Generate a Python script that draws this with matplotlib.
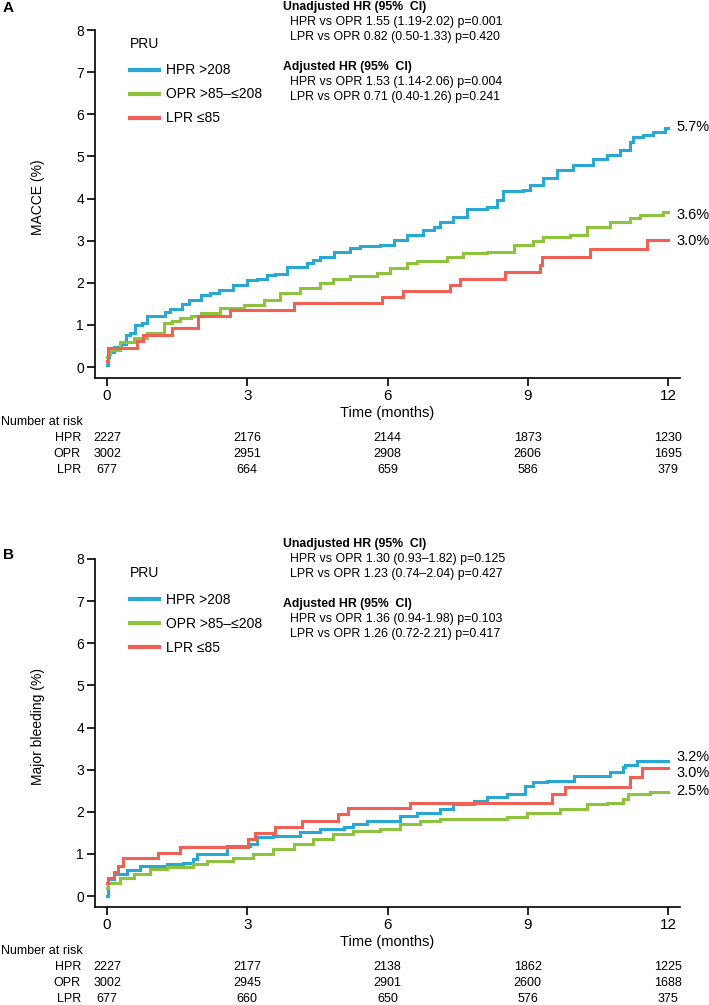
import matplotlib
matplotlib.use("Agg")
import matplotlib.pyplot as plt
from matplotlib.lines import Line2D
from matplotlib.transforms import blended_transform_factory

plt.rcParams['font.family'] = ['Liberation Sans', 'DejaVu Sans']
NARROW = ['Liberation Sans Narrow', 'Liberation Sans', 'DejaVu Sans']

# ---- data ----
groups = ['HPR', 'OPR', 'LPR']
legend_labels = ['HPR >208', 'OPR >85\u2013\u2264208', 'LPR \u226485']
colors = ['#29a8d4', '#8dc33f', '#ef6056']
time_ticks = [0, 3, 6, 9, 12]

# Panel A: MACCE
a_hpr_t = [0, 0.02, 0.05, 0.14, 0.3, 0.41, 0.5, 0.6, 0.75, 0.85, 1.25, 1.35, 1.6, 1.75,
           2.0, 2.2, 2.4, 2.7, 3.0, 3.2, 3.43, 3.6, 3.85, 4.28, 4.4, 4.56, 4.85, 5.2,
           5.42, 5.84, 6.13, 6.41, 6.77, 7.0, 7.12, 7.4, 7.7, 8.13, 8.34, 8.48, 8.9,
           9.05, 9.33, 9.62, 9.97, 10.4, 10.7, 10.98, 11.19, 11.26, 11.47, 11.69, 11.94, 12.0]
a_hpr_v = [0.05, 0.25, 0.35, 0.47, 0.55, 0.75, 0.8, 1.0, 1.05, 1.2, 1.3, 1.38, 1.5, 1.6,
           1.7, 1.75, 1.82, 1.95, 2.06, 2.08, 2.18, 2.2, 2.37, 2.46, 2.55, 2.62, 2.73, 2.83,
           2.87, 2.9, 3.02, 3.13, 3.25, 3.33, 3.45, 3.57, 3.75, 3.81, 3.97, 4.19, 4.2,
           4.32, 4.48, 4.68, 4.8, 4.94, 5.04, 5.15, 5.35, 5.47, 5.51, 5.57, 5.67, 5.67]
a_opr_t = [0, 0.03, 0.07, 0.28, 0.57, 0.85, 1.21, 1.4, 1.57, 1.8, 2.0, 2.42, 2.92, 3.35,
           3.7, 4.13, 4.56, 4.84, 5.2, 5.77, 6.05, 6.41, 6.63, 7.27, 7.62, 8.13, 8.7,
           9.12, 9.33, 9.9, 10.27, 10.76, 11.19, 11.4, 11.9, 12.0]
a_opr_v = [0.25, 0.32, 0.4, 0.6, 0.68, 0.8, 1.04, 1.1, 1.16, 1.22, 1.28, 1.4, 1.48, 1.6,
           1.75, 1.87, 2.0, 2.1, 2.15, 2.23, 2.35, 2.46, 2.52, 2.62, 2.7, 2.74, 2.9,
           2.98, 3.08, 3.13, 3.32, 3.45, 3.53, 3.61, 3.67, 3.67]
a_lpr_t = [0, 0.03, 0.64, 0.77, 1.39, 1.95, 2.63, 3.99, 5.88, 6.33, 7.34, 7.55, 8.51,
           9.26, 9.3, 10.33, 11.55, 12.0]
a_lpr_v = [0.15, 0.45, 0.62, 0.76, 0.92, 1.2, 1.35, 1.53, 1.67, 1.81, 1.95, 2.1, 2.26,
           2.42, 2.62, 2.8, 3.02, 3.02]
a_final = ['5.7%', '3.6%', '3.0%']
a_final_y = [5.7, 3.6, 3.0]
a_risk = {'HPR': [2227, 2176, 2144, 1873, 1230],
          'OPR': [3002, 2951, 2908, 2606, 1695],
          'LPR': [677, 664, 659, 586, 379]}
a_hr = ['HPR vs OPR 1.55 (1.19-2.02) p=0.001', 'LPR vs OPR 0.82 (0.50-1.33) p=0.420',
        'HPR vs OPR 1.53 (1.14-2.06) p=0.004', 'LPR vs OPR 0.71 (0.40-1.26) p=0.241']

# Panel B: major bleeding
b_hpr_t = [0, 0.02, 0.14, 0.42, 0.7, 1.28, 1.63, 1.85, 1.92, 2.56, 3.06, 3.2, 3.56, 4.13,
           4.56, 5.06, 5.27, 5.56, 6.27, 6.63, 7.12, 7.41, 7.84, 8.12, 8.55, 8.94, 9.12,
           9.41, 9.99, 10.76, 11.04, 11.08, 11.34, 12.0]
b_hpr_v = [0.0, 0.4, 0.52, 0.62, 0.71, 0.76, 0.79, 0.88, 1.0, 1.19, 1.24, 1.39, 1.43, 1.51,
           1.6, 1.64, 1.71, 1.79, 1.9, 1.98, 2.07, 2.19, 2.26, 2.34, 2.43, 2.62, 2.7,
           2.74, 2.86, 2.94, 3.06, 3.12, 3.2, 3.2]
b_opr_t = [0, 0.03, 0.28, 0.57, 0.92, 1.28, 1.85, 2.14, 2.7, 3.13, 3.56, 3.99, 4.41, 4.84,
           5.27, 5.84, 6.27, 6.7, 7.12, 8.55, 8.98, 9.69, 10.27, 10.7, 11.04, 11.15,
           11.62, 12.0]
b_opr_v = [0.2, 0.32, 0.44, 0.53, 0.64, 0.69, 0.76, 0.83, 0.91, 1.0, 1.12, 1.24, 1.36, 1.47,
           1.55, 1.6, 1.71, 1.79, 1.83, 1.87, 1.96, 2.07, 2.19, 2.22, 2.31, 2.43,
           2.48, 2.48]
b_lpr_t = [0, 0.02, 0.14, 0.24, 0.35, 1.1, 1.56, 3.02, 3.17, 3.6, 4.17, 4.95, 5.16, 6.48,
           9.52, 9.8, 11.19, 11.44, 12.0]
b_lpr_v = [0.3, 0.44, 0.58, 0.71, 0.9, 1.03, 1.17, 1.35, 1.5, 1.64, 1.79, 1.95, 2.1, 2.22,
           2.43, 2.6, 2.82, 3.05, 3.05]
b_final = ['3.2%', '3.0%', '2.5%']
b_final_y = [3.2, 3.0, 2.5]
b_risk = {'HPR': [2227, 2177, 2138, 1862, 1225],
          'OPR': [3002, 2945, 2901, 2600, 1688],
          'LPR': [677, 660, 650, 576, 375]}
b_hr = ['HPR vs OPR 1.30 (0.93\u20131.82) p=0.125', 'LPR vs OPR 1.23 (0.74\u20132.04) p=0.427',
        'HPR vs OPR 1.36 (0.94-1.98) p=0.103', 'LPR vs OPR 1.26 (0.72-2.21) p=0.417']

W, H = 709, 1005
fig = plt.figure(figsize=(W / 100, H / 100), dpi=100)


def fy(py):
    return 1 - py / H


def panel(top_px, letter, letter_px, ylabel, curves, finals, finals_y, nudge,
          risk, hr, hr_top):
    ax = fig.add_axes([95 / W, fy(top_px + 348), 585 / W, 348 / H])
    for (t, v), c in zip(curves, colors):
        ax.step(t, v, where='post', color=c, lw=2.2, solid_joinstyle='miter')
    ax.set_xlim(-0.257, 12.257)
    ax.set_ylim(-0.26, 8)
    ax.set_xticks(time_ticks)
    ax.set_yticks(range(0, 9))
    for s in ['top', 'right']:
        ax.spines[s].set_visible(False)
    for s in ['left', 'bottom']:
        ax.spines[s].set_linewidth(1.2)
    ax.tick_params(axis='both', length=6, width=1.2, direction='out', labelsize=10, pad=2)
    for lab in ax.get_xticklabels():
        lab.set_family(NARROW)
        lab.set_fontsize(11)
    ax.set_ylabel(ylabel, fontsize=10)
    ax.yaxis.set_label_coords(-0.0855, 0.52)

    # end-of-curve percentages
    for lab, y, dy in zip(finals, finals_y, nudge):
        ax.annotate(lab, (12, y), xytext=(8, dy), textcoords='offset pixels',
                    fontsize=10.5, va='center', ha='left', annotation_clip=False)

    handles = [Line2D([], [], color=c, lw=3) for c in colors]
    leg = ax.legend(handles, legend_labels, title='PRU', loc='upper left',
                    bbox_to_anchor=(130 / W, fy(top_px + 7)),
                    bbox_transform=fig.transFigure, frameon=False, fontsize=10,
                    title_fontsize=10, borderpad=0, borderaxespad=0,
                    handlelength=2.1, handletextpad=0.5, labelspacing=0.72,
                    alignment='left')
    leg._legend_box.sep = 9

    fig.text(3 / W, fy(letter_px), letter, fontsize=11, fontweight='bold',
             va='center', ha='left')

    # hazard ratio block
    fig.text(283 / W, fy(hr_top), 'Unadjusted HR (95%  CI)', fontsize=8.8,
             fontweight='bold', va='center')
    fig.text(290 / W, fy(hr_top + 15), hr[0], fontsize=8.9, va='center')
    fig.text(290 / W, fy(hr_top + 30), hr[1], fontsize=8.9, va='center')
    fig.text(283 / W, fy(hr_top + 60), 'Adjusted HR (95%  CI)', fontsize=8.8,
             fontweight='bold', va='center')
    fig.text(290 / W, fy(hr_top + 75), hr[2], fontsize=8.9, va='center')
    fig.text(290 / W, fy(hr_top + 90), hr[3], fontsize=8.9, va='center')

    # x label and risk table
    tr = blended_transform_factory(ax.transData, fig.transFigure)
    base = top_px + 348
    ax.text(6, fy(base + 35), 'Time (months)', transform=tr, family=NARROW,
            fontsize=10.5, ha='center', va='center')
    fig.text(1 / W, fy(base + 44), 'Number at risk', family=NARROW, fontsize=9,
             va='center', ha='left')
    for i, g in enumerate(groups):
        yy = fy(base + 60 + 16 * i)
        fig.text(81 / W, yy, g, family=NARROW, fontsize=9, va='center', ha='right')
        for t, n in zip(time_ticks, risk[g]):
            ax.text(t, yy, str(n), transform=tr, family=NARROW, fontsize=9,
                    ha='center', va='center')
    return ax


panel(30, 'A', 8, 'MACCE (%)',
      [(a_hpr_t, a_hpr_v), (a_opr_t, a_opr_v), (a_lpr_t, a_lpr_v)],
      a_final, a_final_y, [0, 0, 0], a_risk, a_hr, 7)
panel(559, 'B', 555, 'Major bleeding (%)',
      [(b_hpr_t, b_hpr_v), (b_opr_t, b_opr_v), (b_lpr_t, b_lpr_v)],
      b_final, b_final_y, [4, -3, 0], b_risk, b_hr, 544)

fig.savefig('out.png', dpi=100, facecolor='white')
